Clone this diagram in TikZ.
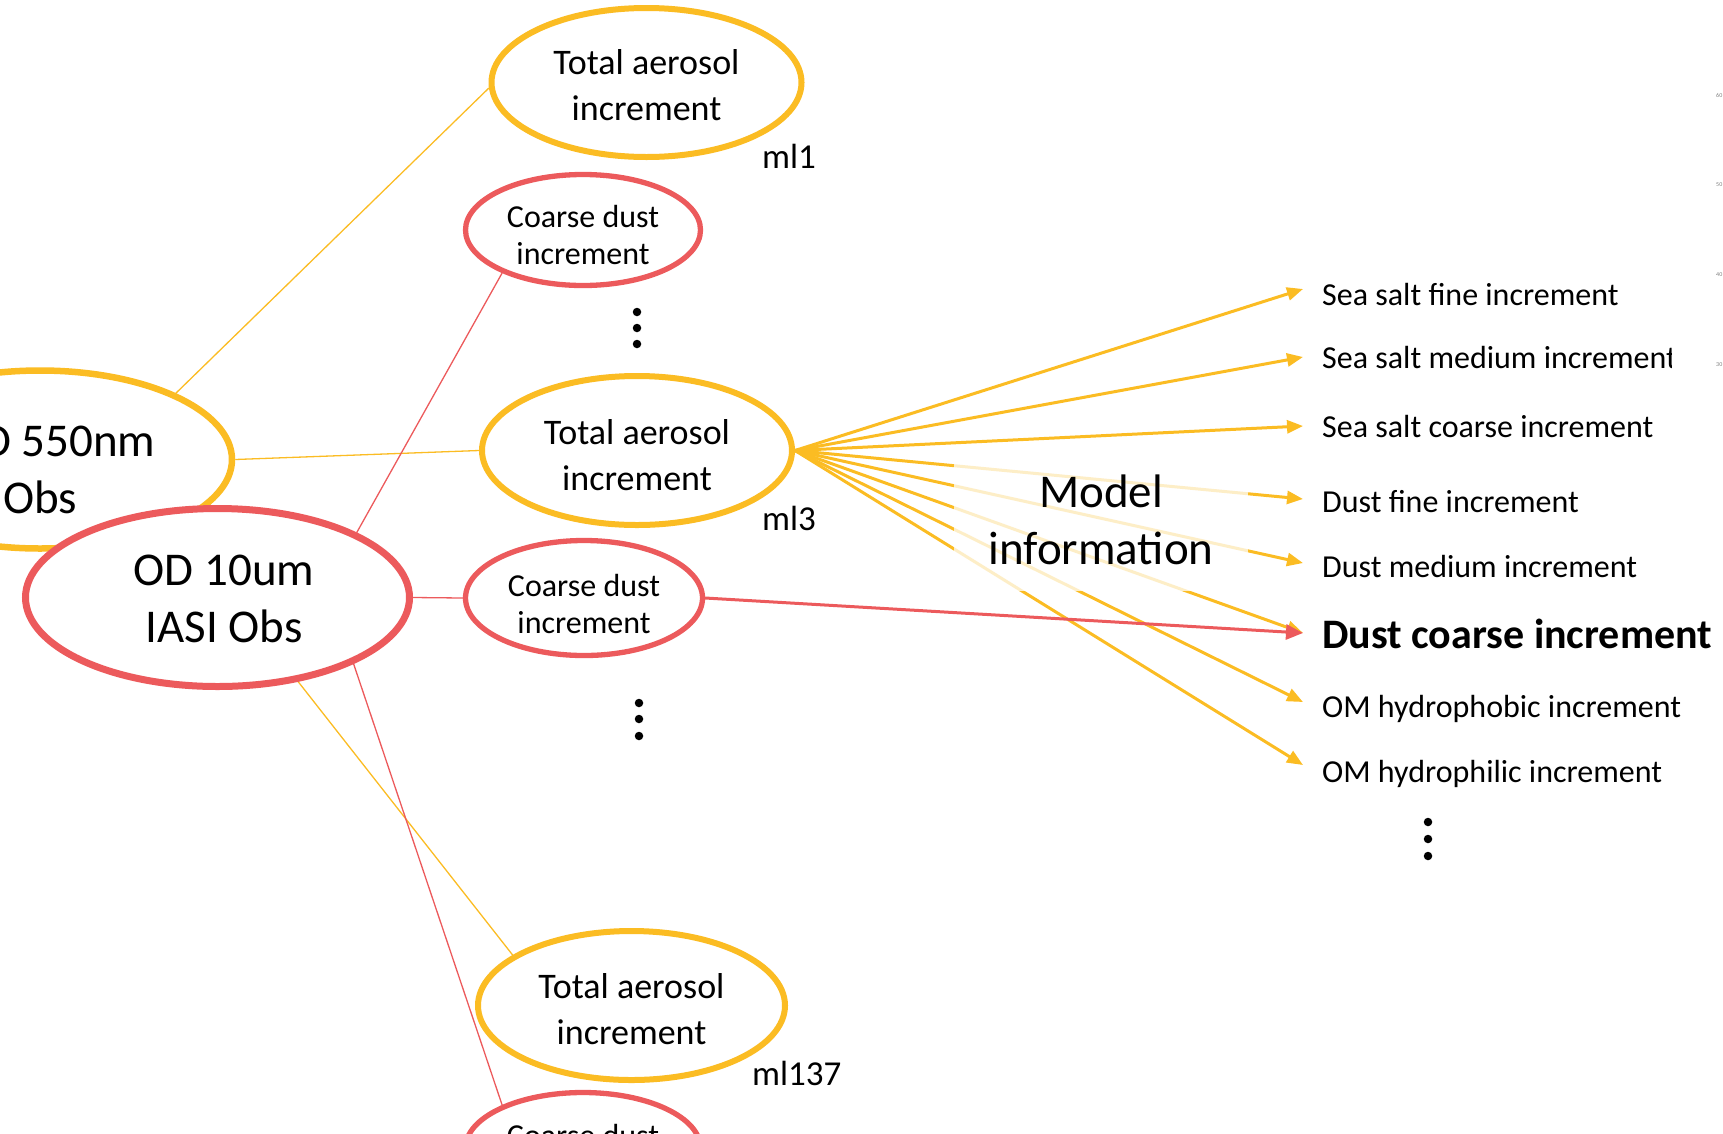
\documentclass[tikz,border=0pt]{standalone}
\usepackage{fontspec}
\setmainfont{Carlito}
\usetikzlibrary{arrows.meta,shapes.geometric}
\definecolor{ayel}{RGB}{251,188,35}
\definecolor{ared}{RGB}{236,90,92}
\pgfdeclarelayer{bg}
\pgfsetlayers{bg,main}
\begin{document}
\begin{tikzpicture}[x=1pt,y=-1pt,
 tot/.style={ellipse, draw=ayel, line width=6pt, fill=white, minimum width=310pt, minimum height=149pt, inner sep=0pt},
 cd/.style={ellipse, draw=ared, line width=5.3pt, fill=white, minimum width=235pt, minimum height=111pt, inner sep=0pt},
 obs/.style={ellipse, line width=6.5pt, fill=white, minimum width=384pt, minimum height=178pt, inner sep=0pt},
 tottxt/.style={inner sep=0pt, align=center, font=\fontsize{36}{46}\selectfont},
 cdtxt/.style={inner sep=0pt, align=center, font=\fontsize{32}{37}\selectfont},
 obstxt/.style={inner sep=0pt, align=center, font=\fontsize{47}{57}\selectfont},
 ml/.style={anchor=base west, inner sep=0pt, font=\fontsize{35}{40}\selectfont},
 lab/.style={anchor=base west, inner sep=0pt, font=\fontsize{32}{37}\selectfont},
 dot/.style={circle, fill=black, inner sep=0pt, minimum size=8.5pt},
 thinY/.style={draw=ayel, line width=1.3pt},
 thinR/.style={draw=ared, line width=1.3pt},
 arrY/.style={draw=ayel, line width=3pt, -{Triangle[length=16pt,width=13pt]}},
 arrR/.style={draw=ared, line width=3pt, -{Triangle[length=17pt,width=15pt]}},
 tick/.style={anchor=west, inner sep=0pt, text=gray, font=\fontsize{6}{7}\selectfont},
]
\useasboundingbox (0,0) rectangle (1723,1133);

% observation ellipses
\node[obs, draw=ayel] (AOD) at (40,459.5) {};
\node[obstxt] (AODt) at ([yshift=-10.5pt]AOD.center) {AOD 550nm\\Obs};
\node[obs, draw=ared, line width=7pt] (OD10) at (217.5,597.5) {};
\node[obstxt] (OD10t) at ([xshift=6.5pt,yshift=-1.7pt]OD10.center) {OD 10um\\IASI Obs};

% model level ellipses
\node[tot] (T1) at (646.5,82.5) {};
\node[tottxt] (T1t) at ([yshift=-3pt]T1.center) {Total aerosol\\increment};
\node[cd] (C1) at (583,230) {};
\node[cdtxt] (C1t) at ([yshift=-5.5pt]C1.center) {Coarse dust\\increment};
\node[tot] (T3) at (637,450.5) {};
\node[tottxt] (T3t) at ([yshift=-4.5pt]T3.center) {Total aerosol\\increment};
\node[cd, minimum width=237pt, minimum height=115pt] (C3) at (584,598) {};
\node[cdtxt] (C3t) at ([yshift=-6pt]C3.center) {Coarse dust\\increment};
\node[tot, minimum width=307pt] (T137) at (631.5,1005.5) {};
\node[tottxt] (T137t) at ([yshift=-4pt]T137.center) {Total aerosol\\increment};
\node[cd] (C137) at (583,1148) {};
\node[cdtxt] (C137t) at ([yshift=-5.5pt]C137.center) {Coarse dust\\increment};

\node[ml] (ml1) at (762,168) {ml1};
\node[ml] (ml3) at (762,530) {ml3};
\node[ml] (ml137) at (752,1085) {ml137};

% vertical dots
\node[dot] (da1) at (637,312) {};
\node[dot] (da2) at (637,328) {};
\node[dot] (da3) at (637,344) {};
\node[dot] (db1) at (639,703) {};
\node[dot] (db2) at (639,719) {};
\node[dot] (db3) at (639,736) {};
\node[dot] (dc1) at (1428,822) {};
\node[dot] (dc2) at (1428,839) {};
\node[dot] (dc3) at (1428,856) {};

% right-hand labels
\node[lab] (L1) at (1322,305) {Sea salt fine increment};
\begin{scope}
\clip (1300,320) rectangle (1671,400);
\node[lab] (L2) at (1322,368) {Sea salt medium increment};
\end{scope}
\node[lab] (L3) at (1322,437) {Sea salt coarse increment};
\node[lab] (L4) at (1322,512) {Dust fine increment};
\node[lab] (L5) at (1322,577) {Dust medium increment};
\node[lab, font=\fontsize{42}{48}\selectfont\bfseries] (L6) at (1322,648) {Dust coarse increment};
\node[lab] (L7) at (1322,717) {OM hydrophobic increment};
\node[lab] (L8) at (1322,782) {OM hydrophilic increment};

\coordinate (e1) at (1303,289);
\coordinate (e2) at (1303,357);
\coordinate (e3) at (1303,426);
\coordinate (e4) at (1303,499);
\coordinate (e5) at (1303,563);
\coordinate (e6) at (1303,633);
\coordinate (e7) at (1303,702);
\coordinate (e8) at (1303,765);

% axis remnants at the right edge
\node[tick] (k60) at (1716,95) {60};
\node[tick] (k50) at (1716,185) {50};
\node[tick] (k40) at (1716,275) {40};
\node[tick] (k30) at (1716,365) {30};

% connectors (behind the ellipses)
\begin{pgfonlayer}{bg}
\draw[thinY] (AOD.26) -- (T1.182);
\draw[thinY] (AOD.east) -- (T3.west);
\draw[thinY] (AOD.-26) -- (T137.157);
\draw[thinR] (OD10.25) -- (C1.208);
\draw[thinR] (OD10.east) -- (C3.west);
\draw[thinR] (OD10.-26) -- (C137.152);
\foreach \e in {e1,e2,e3,e4,e5,e6,e7,e8}
  \draw[arrY] (T3.east) -- (\e);
\end{pgfonlayer}

% semi-transparent text box
\node[fill=white, fill opacity=0.75, minimum width=294pt, minimum height=134pt, inner sep=0pt] (MIbox) at (1101,524) {};
\node[obstxt] (MI) at ([yshift=4.3pt]MIbox.center) {Model\\information};

\draw[arrR] (C3.east) -- (e6);
\end{tikzpicture}
\end{document}
